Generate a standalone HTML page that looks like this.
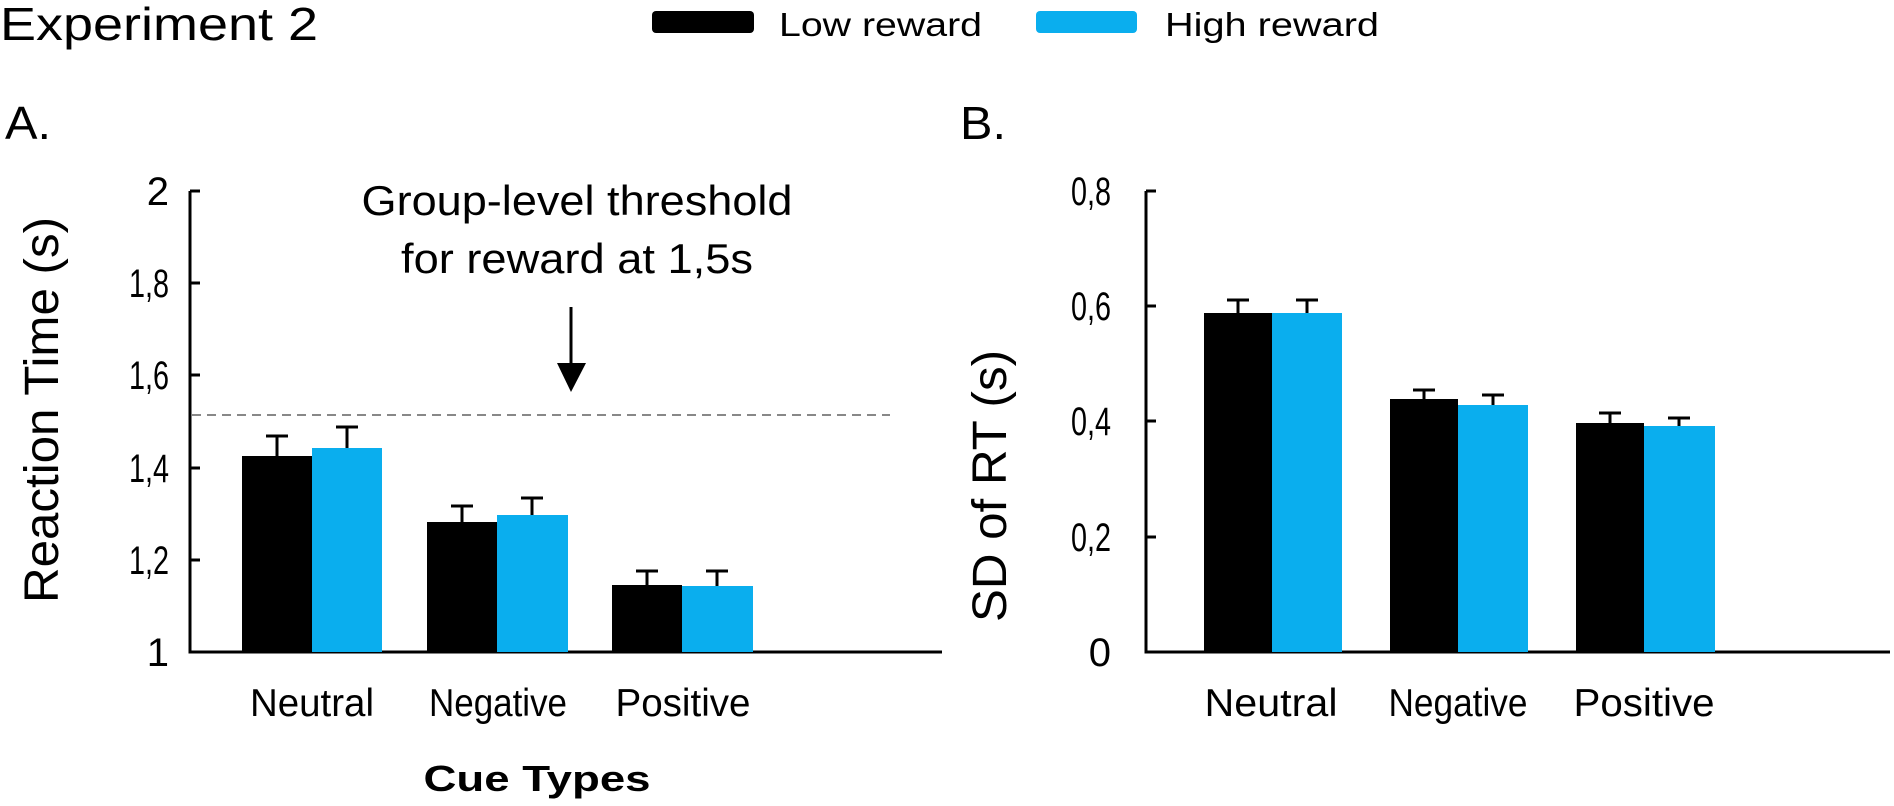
<!DOCTYPE html>
<html><head><meta charset="utf-8"><style>
html,body{margin:0;padding:0;background:#fff;}
svg{display:block;font-family:"Liberation Sans",Arial,sans-serif;}
</style></head><body>
<svg width="1894" height="806" viewBox="0 0 1894 806" xmlns="http://www.w3.org/2000/svg">
<rect width="1894" height="806" fill="#fff"/>
<text x="0" y="40" font-size="46" textLength="318" lengthAdjust="spacingAndGlyphs">Experiment 2</text>
<rect x="652" y="11" width="102" height="22" rx="4" fill="#000"/>
<text x="779" y="36" font-size="33" textLength="203" lengthAdjust="spacingAndGlyphs">Low reward</text>
<rect x="1036" y="11" width="101" height="22" rx="4" fill="#0aaeee"/>
<text x="1165" y="36" font-size="33" textLength="214" lengthAdjust="spacingAndGlyphs">High reward</text>
<text x="5" y="139" font-size="46" textLength="46" lengthAdjust="spacingAndGlyphs">A.</text>
<text x="960" y="139" font-size="46" textLength="46" lengthAdjust="spacingAndGlyphs">B.</text>

<!-- Panel A -->
<g stroke="#000" stroke-width="3" fill="none">
<path d="M190 191 V652 H942"/>
<path d="M190 191 H200 M190 283 H200 M190 375 H200 M190 468 H200 M190 560 H200"/>
</g>
<g font-size="40" text-anchor="end">
<text x="169" y="205">2</text>
<text x="169" y="297" textLength="40" lengthAdjust="spacingAndGlyphs">1,8</text>
<text x="169" y="389" textLength="40" lengthAdjust="spacingAndGlyphs">1,6</text>
<text x="169" y="482" textLength="40" lengthAdjust="spacingAndGlyphs">1,4</text>
<text x="169" y="574" textLength="40" lengthAdjust="spacingAndGlyphs">1,2</text>
<text x="169" y="666">1</text>
</g>
<text transform="translate(58,410) rotate(-90)" font-size="48" text-anchor="middle" textLength="386" lengthAdjust="spacingAndGlyphs">Reaction Time (s)</text>
<line x1="192" y1="415" x2="890" y2="415" stroke="#888" stroke-width="2" stroke-dasharray="9,6"/>
<text x="577" y="215" font-size="42" text-anchor="middle" textLength="431" lengthAdjust="spacingAndGlyphs">Group-level threshold</text>
<text x="577" y="273" font-size="42" text-anchor="middle" textLength="352" lengthAdjust="spacingAndGlyphs">for reward at 1,5s</text>
<line x1="571" y1="307" x2="571" y2="366" stroke="#000" stroke-width="3"/>
<polygon points="557,363 586,363 571,392" fill="#000"/>
<g fill="#000">
<rect x="242" y="456" width="70" height="196"/>
<rect x="427" y="522" width="70" height="130"/>
<rect x="612" y="585" width="70" height="67"/>
</g>
<g fill="#0aaeee">
<rect x="312" y="448" width="70" height="204"/>
<rect x="497" y="515" width="71" height="137"/>
<rect x="682" y="586" width="71" height="66"/>
</g>
<g stroke="#000" stroke-width="3">
<path d="M277 456 V436 M266 436 H288 M347 448 V427 M336 427 H358"/>
<path d="M462 522 V506 M451 506 H473 M532 515 V498 M521 498 H543"/>
<path d="M647 585 V571 M636 571 H658 M717 586 V571 M706 571 H728"/>
</g>
<g font-size="39" text-anchor="middle">
<text x="312" y="716" textLength="124" lengthAdjust="spacingAndGlyphs">Neutral</text>
<text x="498" y="716" textLength="138" lengthAdjust="spacingAndGlyphs">Negative</text>
<text x="683" y="716" textLength="135" lengthAdjust="spacingAndGlyphs">Positive</text>
</g>
<text x="537" y="791" font-size="36" font-weight="bold" text-anchor="middle" textLength="227" lengthAdjust="spacingAndGlyphs">Cue Types</text>

<!-- Panel B -->
<g stroke="#000" stroke-width="3" fill="none">
<path d="M1146 191 V652 H1890"/>
<path d="M1146 191 H1156 M1146 306 H1156 M1146 421 H1156 M1146 537 H1156"/>
</g>
<g font-size="40" text-anchor="end">
<text x="1111" y="205" textLength="40" lengthAdjust="spacingAndGlyphs">0,8</text>
<text x="1111" y="320" textLength="40" lengthAdjust="spacingAndGlyphs">0,6</text>
<text x="1111" y="435" textLength="40" lengthAdjust="spacingAndGlyphs">0,4</text>
<text x="1111" y="551" textLength="40" lengthAdjust="spacingAndGlyphs">0,2</text>
<text x="1111" y="666">0</text>
</g>
<text transform="translate(1006,486) rotate(-90)" font-size="48" text-anchor="middle" textLength="272" lengthAdjust="spacingAndGlyphs">SD of RT (s)</text>
<g fill="#000">
<rect x="1204" y="313" width="68" height="339"/>
<rect x="1390" y="399" width="68" height="253"/>
<rect x="1576" y="423" width="68" height="229"/>
</g>
<g fill="#0aaeee">
<rect x="1272" y="313" width="70" height="339"/>
<rect x="1458" y="405" width="70" height="247"/>
<rect x="1644" y="426" width="71" height="226"/>
</g>
<g stroke="#000" stroke-width="3">
<path d="M1238 313 V300 M1227 300 H1249 M1307 313 V300 M1296 300 H1318"/>
<path d="M1424 399 V390 M1413 390 H1435 M1493 405 V395 M1482 395 H1504"/>
<path d="M1610 423 V413 M1599 413 H1621 M1679 426 V418 M1668 418 H1690"/>
</g>
<g font-size="39" text-anchor="middle">
<text x="1271" y="716" textLength="133" lengthAdjust="spacingAndGlyphs">Neutral</text>
<text x="1458" y="716" textLength="139" lengthAdjust="spacingAndGlyphs">Negative</text>
<text x="1644" y="716" textLength="141" lengthAdjust="spacingAndGlyphs">Positive</text>
</g>
</svg>
</body></html>
